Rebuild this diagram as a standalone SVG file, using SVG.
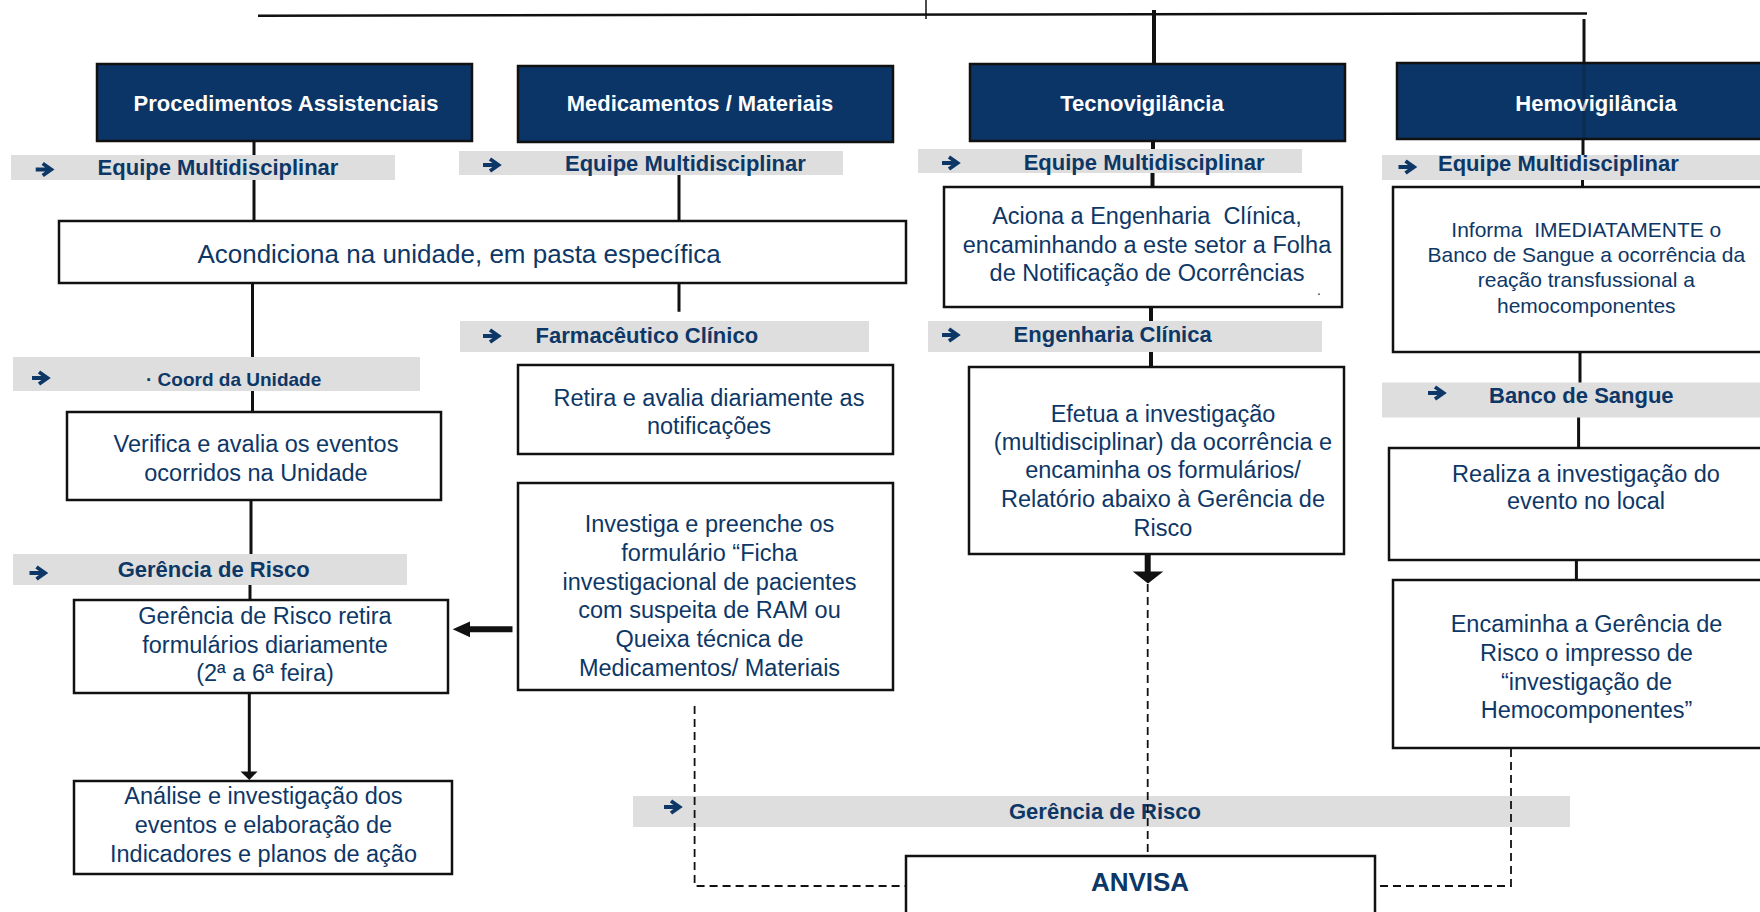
<svg xmlns="http://www.w3.org/2000/svg" xmlns:xlink="http://www.w3.org/1999/xlink" width="1760" height="912" viewBox="0 0 1760 912">
<defs>
<style>
.hdr{fill:#0b3566;stroke:#111;stroke-width:2.5}
.box{fill:#fff;stroke:#111;stroke-width:2.5}
.bar{fill:#dedede}
.ht{font-family:"Liberation Sans",Arial,sans-serif;font-weight:bold;font-size:22px;fill:#fff;text-anchor:middle}
.lt{font-family:"Liberation Sans",Arial,sans-serif;font-weight:bold;font-size:22px;fill:#0d3766}
.bt{font-family:"Liberation Sans",Arial,sans-serif;font-size:23.5px;fill:#0d3766;text-anchor:middle}
.st{font-size:21px}
.ln{stroke:#111;stroke-width:3;fill:none}
.dash{stroke:#111;stroke-width:1.8;stroke-dasharray:8 5;fill:none}
.ag{stroke:#0d3766;stroke-width:3.8;fill:none}
</style>
<symbol id="arr" overflow="visible"><path class="ag" d="M-9,0 H4 M-2,-6 L6.5,0 L-2,6"/></symbol>
</defs>
<rect width="1760" height="912" fill="#fff"/>

<g id="n-proc">
<rect class="hdr" x="97" y="64" width="375" height="77"/>
<text class="ht" x="286" y="111">Procedimentos Assistenciais</text>
</g>
<g id="n-med">
<rect class="hdr" x="518" y="66" width="375" height="76"/>
<text class="ht" x="700" y="111">Medicamentos / Materiais</text>
</g>
<g id="n-tecno">
<rect class="hdr" x="970" y="64" width="375" height="77"/>
<text class="ht" x="1142" y="111">Tecnovigilância</text>
</g>
<g id="n-hemo">
<rect class="hdr" x="1397" y="63" width="400" height="76"/>
<text class="ht" x="1596" y="111">Hemovigilância</text>
</g>

<g id="l-equipe1">
<rect class="bar" x="11" y="155" width="384" height="25"/>
<use href="#arr" x="44.7" y="169.5"/>
<text class="lt" x="97.6" y="175">Equipe Multidisciplinar</text>
</g>
<g id="l-equipe2">
<rect class="bar" x="459" y="151" width="384" height="24"/>
<use href="#arr" x="492" y="165"/>
<text class="lt" x="565" y="171">Equipe Multidisciplinar</text>
</g>
<g id="l-equipe3">
<rect class="bar" x="918" y="149" width="384" height="24"/>
<use href="#arr" x="951" y="163"/>
<text class="lt" x="1023.7" y="169.5">Equipe Multidisciplinar</text>
</g>
<g id="l-equipe4">
<rect class="bar" x="1382" y="155" width="400" height="25"/>
<use href="#arr" x="1407.5" y="167"/>
<text class="lt" x="1438" y="171">Equipe Multidisciplinar</text>
</g>

<g id="n-acond">
<rect class="box" x="59" y="221" width="847" height="62"/>
<text class="bt" x="459" y="263" style="font-size:26px">Acondiciona na unidade, em pasta específica</text>
</g>

<g id="l-coord">
<rect class="bar" x="13" y="357" width="407" height="34"/>
<use href="#arr" x="41" y="378"/>
<text class="lt" x="146" y="386" style="font-size:19px">· Coord da Unidade</text>
</g>
<g id="n-verifica">
<rect class="box" x="67" y="412" width="374" height="88"/>
<text class="bt" x="256" y="452">Verifica e avalia os eventos</text>
<text class="bt" x="256" y="481">ocorridos na Unidade</text>
</g>
<g id="l-gerencia1">
<rect class="bar" x="13" y="554" width="394" height="31"/>
<use href="#arr" x="38.5" y="573"/>
<text class="lt" x="117.7" y="577">Gerência de Risco</text>
</g>
<g id="n-retira-form">
<rect class="box" x="74" y="600" width="374" height="93"/>
<text class="bt" x="265" y="624">Gerência de Risco retira</text>
<text class="bt" x="265" y="652.5">formulários diariamente</text>
<text class="bt" x="265" y="681">(2ª a 6ª feira)</text>
</g>
<g id="n-analise">
<rect class="box" x="74" y="781" width="378" height="93"/>
<text class="bt" x="263.5" y="804">Análise e investigação dos</text>
<text class="bt" x="263.5" y="833">eventos e elaboração de</text>
<text class="bt" x="263.5" y="862">Indicadores e planos de ação</text>
</g>

<g id="l-farm">
<rect class="bar" x="460" y="321" width="409" height="31"/>
<use href="#arr" x="492" y="336"/>
<text class="lt" x="535.6" y="343">Farmacêutico Clínico</text>
</g>
<g id="n-retira">
<rect class="box" x="518" y="365" width="375" height="89"/>
<text class="bt" x="709" y="405.7">Retira e avalia diariamente as</text>
<text class="bt" x="709" y="434.3">notificações</text>
</g>
<g id="n-investiga">
<rect class="box" x="518" y="483" width="375" height="207"/>
<text class="bt" x="709.5" y="532.3">Investiga e preenche os</text>
<text class="bt" x="709.5" y="561">formulário “Ficha</text>
<text class="bt" x="709.5" y="589.7">investigacional de pacientes</text>
<text class="bt" x="709.5" y="618.4">com suspeita de RAM ou</text>
<text class="bt" x="709.5" y="647">Queixa técnica de</text>
<text class="bt" x="709.5" y="675.8">Medicamentos/ Materiais</text>
</g>

<g id="n-aciona">
<rect class="box" x="944" y="187" width="398" height="120"/>
<text class="bt" x="1147" y="224" xml:space="preserve">Aciona a Engenharia  Clínica,</text>
<text class="bt" x="1147" y="253.3">encaminhando a este setor a Folha</text>
<text class="bt" x="1147" y="281">de Notificação de Ocorrências</text>
<text class="bt" x="1319" y="295" style="font-size:14px">.</text>
</g>
<g id="l-eng">
<rect class="bar" x="928" y="321" width="394" height="31"/>
<use href="#arr" x="951" y="335"/>
<text class="lt" x="1013.6" y="342.3">Engenharia Clínica</text>
</g>
<g id="n-efetua">
<rect class="box" x="969" y="367" width="375" height="187"/>
<text class="bt" x="1163" y="421.7">Efetua a investigação</text>
<text class="bt" x="1163" y="450">(multidisciplinar) da ocorrência e</text>
<text class="bt" x="1163" y="478.3">encaminha os formulários/</text>
<text class="bt" x="1163" y="507">Relatório abaixo à Gerência de</text>
<text class="bt" x="1163" y="535.7">Risco</text>
</g>

<g id="n-informa">
<rect class="box" x="1393" y="187" width="400" height="165"/>
<text class="bt st" x="1586.3" y="236.7" xml:space="preserve">Informa  IMEDIATAMENTE o</text>
<text class="bt st" x="1586.3" y="262">Banco de Sangue a ocorrência da</text>
<text class="bt st" x="1586.3" y="287.3">reação transfussional a</text>
<text class="bt st" x="1586.3" y="312.6">hemocomponentes</text>
</g>
<g id="l-banco">
<rect class="bar" x="1382" y="382.5" width="400" height="35"/>
<use href="#arr" x="1437" y="393"/>
<text class="lt" x="1489" y="403.3">Banco de Sangue</text>
</g>
<g id="n-realiza">
<rect class="box" x="1389" y="448" width="400" height="112"/>
<text class="bt" x="1586" y="481.7">Realiza a investigação do</text>
<text class="bt" x="1586" y="509.3">evento no local</text>
</g>
<g id="n-encaminha">
<rect class="box" x="1393" y="580" width="400" height="168"/>
<text class="bt" x="1586.5" y="632.3">Encaminha a Gerência de</text>
<text class="bt" x="1586.5" y="661">Risco o impresso de</text>
<text class="bt" x="1586.5" y="689.6">“investigação de</text>
<text class="bt" x="1586.5" y="718">Hemocomponentes”</text>
</g>

<g id="l-gerencia2">
<rect class="bar" x="633" y="796" width="937" height="31"/>
<use href="#arr" x="673" y="807"/>
<text class="lt" x="1009" y="819">Gerência de Risco</text>
</g>
<g id="n-anvisa">
<rect class="box" x="906" y="856" width="469" height="70"/>
<text class="lt" x="1140" y="891" style="font-size:26px;text-anchor:middle">ANVISA</text>
</g>

<g id="connectors">
<path class="ln" style="stroke-width:2.5" d="M258,15.7 L1587,13.5"/>
<path class="ln" style="stroke-width:1.5" d="M926,0 V19"/>
<path class="ln" style="stroke-width:4" d="M1154,10 V64"/>
<path class="ln" d="M1584,19 V63"/>
<path class="ln" style="stroke-opacity:0.25" d="M1584,63 V139"/>
<path class="ln" d="M1583,139 V155 M1582.5,180 V187"/>
<path class="ln" d="M254,141 V155 M254,180 V221 M252.5,283 V357 M252.5,391 V412 M251,500 V554 M250,585 V600"/>
<path class="ln" d="M249.3,693 V772"/>
<polygon fill="#111" points="240.5,771.5 257.5,771.5 249.3,780"/>
<path class="ln" d="M679,175 V221 M679,283 V311.7"/>
<path class="ln" style="stroke-width:4" d="M1153,141 V149 M1152.5,173 V187 M1151,307 V321 M1151,352 V367"/>
<path class="ln" style="stroke-width:6" d="M1147.7,554 V572"/>
<polygon fill="#111" points="1132.7,571.5 1163.3,571.5 1148,583.5"/>
<path class="dash" d="M1147.7,584 V856"/>
<path class="ln" d="M1580,352 V382.5 M1578.6,417.5 V448 M1576.4,560 V580"/>
<path class="dash" d="M1511,749 V886 H1375"/>
<path class="dash" d="M694.6,706 V886 H906"/>
<path class="ln" style="stroke-width:6" d="M512.5,629.3 H468"/>
<polygon fill="#111" points="452.7,629.3 470,621.5 470,637.3"/>
</g>
</svg>
